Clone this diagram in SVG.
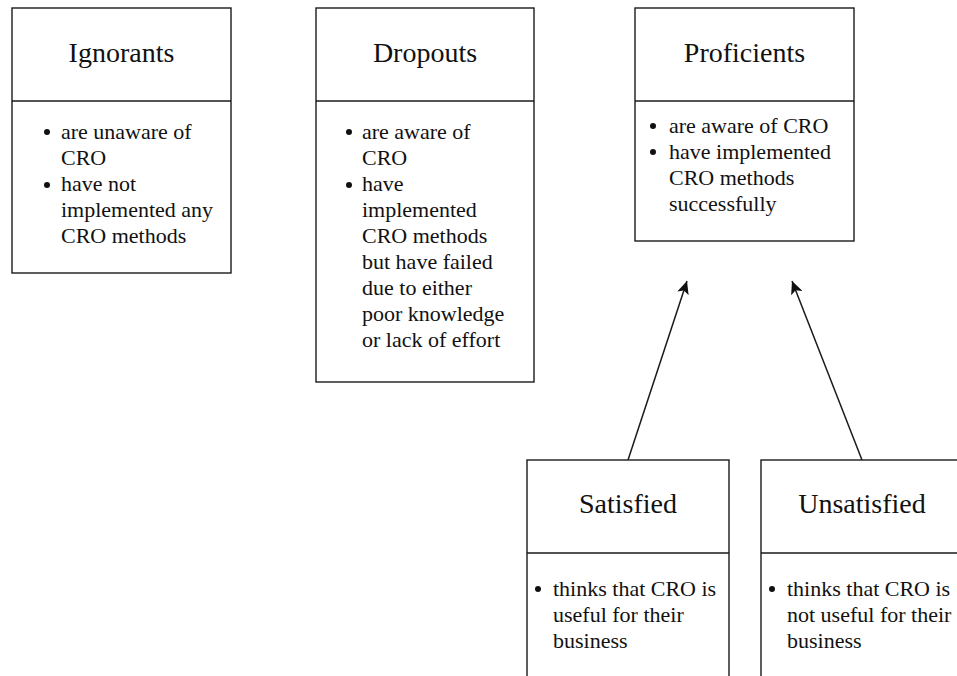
<svg xmlns="http://www.w3.org/2000/svg" width="957" height="676" viewBox="0 0 957 676">
<style>
.box{fill:#fff;stroke:#1a1a1a;stroke-width:1.4}
.div{stroke:#1a1a1a;stroke-width:1.4}
.title{font-family:"Liberation Serif","Times New Roman",serif;font-size:28px;fill:#111;text-anchor:middle}
.body{font-family:"Liberation Serif","Times New Roman",serif;font-size:22px;fill:#111}
.dot{fill:#111}
.conn{stroke:#1a1a1a;stroke-width:1.5;fill:none}
</style>
<defs>
<marker id="arr" markerWidth="14" markerHeight="12" refX="13" refY="6" orient="auto" markerUnits="userSpaceOnUse">
<path d="M0,0 L13,6 L0,12 L3,6 z" fill="#111"/>
</marker>
</defs>
<rect width="957" height="676" fill="#fff"/>
<g id="connectors">
<line class="conn" x1="628" y1="460" x2="687" y2="281" marker-end="url(#arr)"/>
<line class="conn" x1="862" y1="460" x2="792" y2="281" marker-end="url(#arr)"/>
</g>
<g id="ignorants">
<rect class="box" x="12" y="8" width="219" height="265"/>
<line class="div" x1="12" y1="101" x2="231" y2="101"/>
<text class="title" x="121.5" y="62">Ignorants</text>
<circle class="dot" cx="47" cy="132" r="3"/>
<circle class="dot" cx="47" cy="185" r="3"/>
<text class="body" x="61" y="139">are unaware of</text>
<text class="body" x="61" y="165">CRO</text>
<text class="body" x="61" y="191">have not</text>
<text class="body" x="61" y="217">implemented any</text>
<text class="body" x="61" y="243">CRO methods</text>
</g>
<g id="dropouts">
<rect class="box" x="316" y="8" width="218" height="374"/>
<line class="div" x1="316" y1="101" x2="534" y2="101"/>
<text class="title" x="425" y="62">Dropouts</text>
<circle class="dot" cx="349" cy="132" r="3"/>
<circle class="dot" cx="349" cy="185" r="3"/>
<text class="body" x="362" y="139">are aware of</text>
<text class="body" x="362" y="165">CRO</text>
<text class="body" x="362" y="191">have</text>
<text class="body" x="362" y="217">implemented</text>
<text class="body" x="362" y="243">CRO methods</text>
<text class="body" x="362" y="269">but have failed</text>
<text class="body" x="362" y="295">due to either</text>
<text class="body" x="362" y="321">poor knowledge</text>
<text class="body" x="362" y="347">or lack of effort</text>
</g>
<g id="proficients">
<rect class="box" x="635" y="8" width="219" height="233"/>
<line class="div" x1="635" y1="101" x2="854" y2="101"/>
<text class="title" x="744.5" y="62">Proficients</text>
<circle class="dot" cx="653" cy="126" r="3"/>
<circle class="dot" cx="653" cy="152" r="3"/>
<text class="body" x="669" y="133">are aware of CRO</text>
<text class="body" x="669" y="159">have implemented</text>
<text class="body" x="669" y="185">CRO methods</text>
<text class="body" x="669" y="211">successfully</text>
</g>
<g id="satisfied">
<rect class="box" x="527" y="460" width="202" height="230"/>
<line class="div" x1="527" y1="553" x2="729" y2="553"/>
<text class="title" x="628" y="513">Satisfied</text>
<circle class="dot" cx="538" cy="589" r="3"/>
<text class="body" x="553" y="596">thinks that CRO is</text>
<text class="body" x="553" y="622">useful for their</text>
<text class="body" x="553" y="648">business</text>
</g>
<g id="unsatisfied">
<rect class="box" x="761" y="460" width="202" height="230"/>
<line class="div" x1="761" y1="553" x2="963" y2="553"/>
<text class="title" x="862" y="513">Unsatisfied</text>
<circle class="dot" cx="772" cy="589" r="3"/>
<text class="body" x="787" y="596">thinks that CRO is</text>
<text class="body" x="787" y="622">not useful for their</text>
<text class="body" x="787" y="648">business</text>
</g>
</svg>
